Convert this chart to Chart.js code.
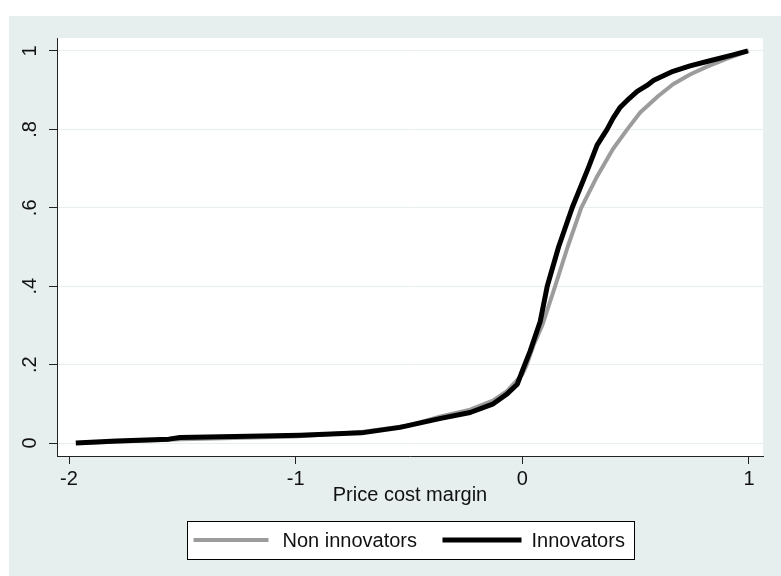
<!DOCTYPE html>
<html>
<head>
<meta charset="utf-8">
<script src="https://cdn.jsdelivr.net/npm/chart.js@4.4.1/dist/chart.umd.min.js"></script>
<style>
  body { margin: 0; background: #ffffff; }
  #wrap { position: absolute; left: 9px; top: 16px; width: 772px; height: 560px; }
</style>
</head>
<body>
<div id="wrap"><canvas id="cdf" width="772" height="560"></canvas></div>
<script>
// series labels
const series_names = ["Innovators", "Non innovators"];

// Innovators (black) - cumulative share vs price cost margin
const innov_x = [-1.97, -1.79, -1.56, -1.51, -1.15, -0.98, -0.71, -0.54, -0.36, -0.23,
                 -0.128, -0.066, -0.022, 0.004, 0.035, 0.079, 0.11, 0.16, 0.22, 0.29,
                 0.33, 0.374, 0.40, 0.43, 0.47, 0.507, 0.55, 0.58, 0.665, 0.74,
                 0.815, 0.93, 0.995];
const innov_y = [0, 0.005, 0.01, 0.014, 0.018, 0.02, 0.026, 0.04, 0.063, 0.078,
                 0.10, 0.126, 0.15, 0.19, 0.235, 0.31, 0.40, 0.50, 0.60, 0.70,
                 0.76, 0.80, 0.828, 0.855, 0.878, 0.897, 0.912, 0.925, 0.948, 0.962,
                 0.973, 0.99, 1.0];

// Non innovators (gray)
const non_x = [-1.95, -1.5, -1.0, -0.71, -0.5, -0.36, -0.23, -0.13, -0.066, 0,
               0.02, 0.05, 0.088, 0.145, 0.2, 0.26, 0.33, 0.40, 0.463, 0.52,
               0.6, 0.665, 0.74, 0.815, 0.90, 1.0];
const non_y = [0, 0.01, 0.017, 0.028, 0.045, 0.068, 0.085, 0.108, 0.133, 0.175,
               0.2, 0.25, 0.3, 0.4, 0.5, 0.6, 0.68, 0.75, 0.8, 0.843,
               0.885, 0.915, 0.94, 0.96, 0.98, 1.0];

// axis ticks
const x_ticks = [-2, -1, 0, 1];
const y_ticks = [0, 0.2, 0.4, 0.6, 0.8, 1];
const y_tick_labels = ["0", ".2", ".4", ".6", ".8", "1"];
const x_title = "Price cost margin";

const bg_color = "#e6eeee";
const font_family = "'Liberation Sans', Arial, sans-serif";

function to_points(xs, ys) {
    let pts = [];
    for (let i = 0; i < xs.length; i++) {
        pts.push({ x: xs[i], y: ys[i] });
    }
    return pts;
}

const bg_plugin = {
    id: "stata_bg",
    beforeDraw(chart) {
        const ctx = chart.ctx;
        const a = chart.chartArea;
        ctx.save();
        ctx.fillStyle = bg_color;
        ctx.fillRect(0, 0, chart.width, chart.height);
        ctx.fillStyle = "#ffffff";
        ctx.fillRect(a.left, a.top, a.right - a.left, a.bottom - a.top);
        ctx.restore();
    }
};

// boxed legend under the axis title, like stata draws it
const legend_plugin = {
    id: "stata_legend",
    afterDraw(chart) {
        const ctx = chart.ctx;
        const a = chart.chartArea;
        const cx = (a.left + a.right) / 2;
        const w = 447, top = 505, h = 38;
        const left = Math.round(cx - w / 2) + 0.5;
        const mid = top + h / 2;
        ctx.save();
        ctx.fillStyle = "#ffffff";
        ctx.fillRect(left, top + 0.5, w, h);
        ctx.strokeStyle = "#000000";
        ctx.lineWidth = 1;
        ctx.strokeRect(left, top + 0.5, w, h);

        const items = [
            { ds: chart.data.datasets[1], x0: 6, x1: 81, tx: 95 },
            { ds: chart.data.datasets[0], x0: 255, x1: 334, tx: 344 }
        ];
        items.forEach(it => {
            ctx.strokeStyle = it.ds.borderColor;
            ctx.lineWidth = it.ds.borderWidth;
            ctx.beginPath();
            ctx.moveTo(left + it.x0, mid);
            ctx.lineTo(left + it.x1, mid);
            ctx.stroke();
            ctx.fillStyle = "#111111";
            ctx.font = "20px " + font_family;
            ctx.textAlign = "left";
            ctx.textBaseline = "middle";
            ctx.fillText(it.ds.label, left + it.tx, mid + 1);
        });
        ctx.restore();
    }
};

const ctx = document.getElementById("cdf").getContext("2d");
const cdf_chart = new Chart(ctx, {
    type: "line",
    data: {
        datasets: [{
            label: series_names[0],
            data: to_points(innov_x, innov_y),
            borderColor: "#000000",
            backgroundColor: "#000000",
            borderWidth: 5,
            pointRadius: 0,
            tension: 0,
            borderJoinStyle: "round",
            fill: false
        }, {
            label: series_names[1],
            data: to_points(non_x, non_y),
            borderColor: "#9c9c9c",
            backgroundColor: "#9c9c9c",
            borderWidth: 4,
            pointRadius: 0,
            tension: 0,
            borderJoinStyle: "round",
            fill: false
        }]
    },
    options: {
        responsive: false,
        animation: false,
        devicePixelRatio: 1,
        events: [],
        layout: {
            padding: { left: 0, right: 18, top: 17, bottom: 60 }
        },
        plugins: {
            legend: { display: false },
            tooltip: { enabled: false }
        },
        scales: {
            x: {
                type: "linear",
                min: -2.053,
                max: 1.062,
                afterBuildTicks: s => { s.ticks = x_ticks.map(v => ({ value: v })); },
                afterFit: s => { s.height = 60; },
                border: { display: true, color: "#222222", width: 1 },
                grid: {
                    drawOnChartArea: false,
                    drawTicks: true,
                    tickLength: 8,
                    tickColor: "#222222"
                },
                ticks: {
                    maxRotation: 0,
                    minRotation: 0,
                    padding: 3,
                    color: "#111111",
                    font: { family: font_family, size: 20 },
                    callback: v => String(v)
                },
                title: {
                    display: true,
                    text: x_title,
                    color: "#111111",
                    font: { family: font_family, size: 20 },
                    padding: { top: 0, bottom: 9 }
                }
            },
            y: {
                type: "linear",
                min: -0.033,
                max: 1.033,
                afterBuildTicks: s => { s.ticks = y_ticks.map(v => ({ value: v })); },
                afterFit: s => { s.width = 48; },
                border: { display: true, color: "#222222", width: 1 },
                grid: {
                    color: "#e6eeee",
                    lineWidth: 1,
                    drawTicks: true,
                    tickLength: 8,
                    tickColor: "#222222"
                },
                ticks: {
                    minRotation: 90,
                    maxRotation: 90,
                    crossAlign: "center",
                    padding: 10,
                    color: "#111111",
                    font: { family: font_family, size: 20 },
                    callback: (v) => {
                        const i = y_ticks.indexOf(v);
                        return i >= 0 ? y_tick_labels[i] : "";
                    }
                }
            }
        }
    },
    plugins: [bg_plugin, legend_plugin]
});
</script>
</body>
</html>
